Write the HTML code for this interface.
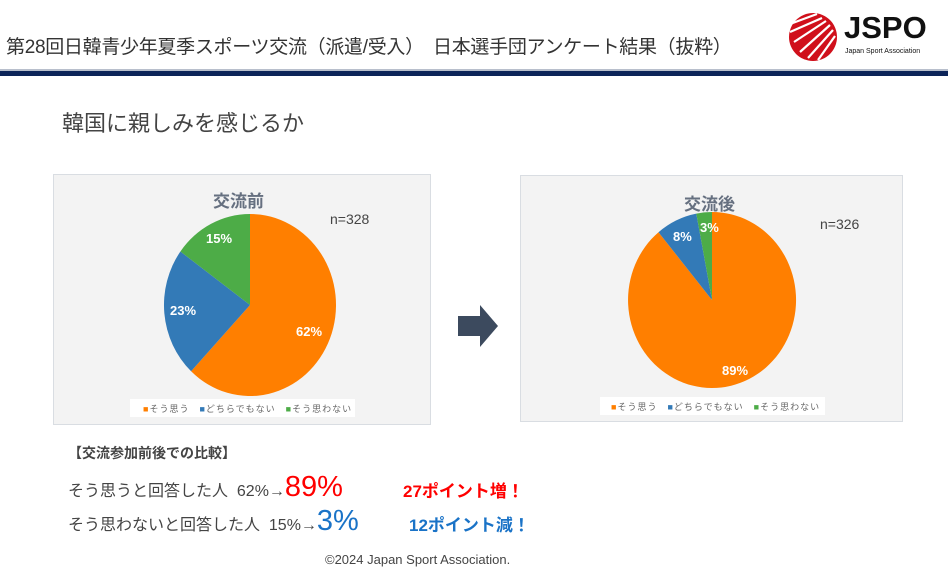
<!DOCTYPE html>
<html><head><meta charset="utf-8"><style>
body{margin:0;width:948px;height:578px;background:#fff;position:relative;overflow:hidden;font-family:"Liberation Sans","Noto Sans CJK JP",sans-serif;color:#404040}
.a{position:absolute;white-space:nowrap}
</style></head><body>
<div class="a" style="left:6px;top:32px;font-size:19px;color:#333;letter-spacing:-0.3px">第28回日韓青少年夏季スポーツ交流（派遣/受入）　日本選手団アンケート結果（抜粋）</div>
<svg class="a" style="left:788px;top:12px" width="50" height="50" viewBox="0 0 50 50">
<circle cx="25" cy="25" r="24" fill="#d0101b"/>
<g stroke="#fff" stroke-width="2.2">
<line x1="34" y1="6" x2="2" y2="20"/><line x1="38" y1="9" x2="6" y2="30"/><line x1="42" y1="13" x2="12" y2="40"/><line x1="45" y1="18" x2="20" y2="46"/><line x1="47" y1="24" x2="30" y2="48"/><line x1="29" y1="2" x2="2" y2="12"/>
</g></svg>
<div class="a" style="left:844px;top:10px;font-size:31px;font-weight:bold;color:#111">JSPO</div>
<div class="a" style="left:845px;top:48px;font-size:7px;color:#111">Japan Sport Association</div>
<div class="a" style="left:0;top:71px;width:948px;height:5px;background:#0c2459"></div>
<div class="a" style="left:0;top:69px;width:948px;height:2px;background:#b8bfcc"></div>
<div class="a" style="left:62px;top:106px;font-size:22px;color:#444">韓国に親しみを感じるか</div>

<div class="a" style="left:53px;top:174px;width:376px;height:249px;background:#f3f3f3;border:1px solid #d9dde2"></div>
<div class="a" style="left:520px;top:175px;width:381px;height:245px;background:#f3f3f3;border:1px solid #d9dde2"></div>
<svg class="a" style="left:0;top:0" width="948" height="578">
<path d="M250,305 L250,214 A86,91 0 1,1 191.1,371.3 Z" fill="#ff7f00"/>
<path d="M250,305 L191.1,371.3 A86,91 0 0,1 180.4,251.5 Z" fill="#337ab7"/>
<path d="M250,305 L180.4,251.5 A86,91 0 0,1 250,214 Z" fill="#4dac47"/>
<path d="M712,300 L712,212 A84,88 0 1,1 658.5,232.2 Z" fill="#ff7f00"/>
<path d="M712,300 L658.5,232.2 A84,88 0 0,1 696.3,213.6 Z" fill="#337ab7"/>
<path d="M712,300 L696.3,213.6 A84,88 0 0,1 712,212 Z" fill="#4dac47"/>
<polygon points="458,316 480,316 480,305 498,326 480,347 480,336 458,336" fill="#3c4a5e"/>
</svg>
<div class="a" style="left:213px;top:187px;font-size:17px;font-weight:bold;color:#667080">交流前</div>
<div class="a" style="left:330px;top:211px;font-size:14px;color:#444">n=328</div>
<div class="a" style="left:206px;top:231px;font-size:13px;font-weight:bold;color:#fff">15%</div>
<div class="a" style="left:170px;top:303px;font-size:13px;font-weight:bold;color:#fff">23%</div>
<div class="a" style="left:296px;top:324px;font-size:13px;font-weight:bold;color:#fff">62%</div>
<div class="a" style="left:130px;top:399px;width:225px;height:18px;background:#fff"></div>
<div class="a" style="left:143px;top:402px;font-size:9px;color:#666;letter-spacing:1px"><span style="color:#ff7f00">■</span>そう思う　<span style="color:#337ab7">■</span>どちらでもない　<span style="color:#4dac47">■</span>そう思わない</div>

<div class="a" style="left:684px;top:190px;font-size:17px;font-weight:bold;color:#667080">交流後</div>
<div class="a" style="left:820px;top:216px;font-size:14px;color:#444">n=326</div>
<div class="a" style="left:673px;top:229px;font-size:13px;font-weight:bold;color:#fff">8%</div>
<div class="a" style="left:700px;top:220px;font-size:13px;font-weight:bold;color:#fff">3%</div>
<div class="a" style="left:722px;top:363px;font-size:13px;font-weight:bold;color:#fff">89%</div>
<div class="a" style="left:600px;top:397px;width:225px;height:18px;background:#fff"></div>
<div class="a" style="left:611px;top:400px;font-size:9px;color:#666;letter-spacing:1px"><span style="color:#ff7f00">■</span>そう思う　<span style="color:#337ab7">■</span>どちらでもない　<span style="color:#4dac47">■</span>そう思わない</div>

<div class="a" style="left:68px;top:443px;font-size:14px;font-weight:bold;color:#444">【交流参加前後での比較】</div>
<div class="a" style="left:68px;top:472px;line-height:30px;font-size:16px;color:#444">そう思うと回答した人&nbsp; 62%→<span style="font-size:29px;color:#ff0000">89%</span></div>
<div class="a" style="left:403px;top:477px;font-size:17px;color:#ff0000;font-weight:bold">27ポイント増！</div>
<div class="a" style="left:68px;top:506px;line-height:30px;font-size:16px;color:#444">そう思わないと回答した人&nbsp; 15%→<span style="font-size:29px;color:#1a73c7">3%</span></div>
<div class="a" style="left:409px;top:511px;font-size:17px;color:#1a73c7;font-weight:bold">12ポイント減！</div>
<div class="a" style="left:325px;top:552px;font-size:13px;color:#444">©2024 Japan Sport Association.</div>
</body></html>
